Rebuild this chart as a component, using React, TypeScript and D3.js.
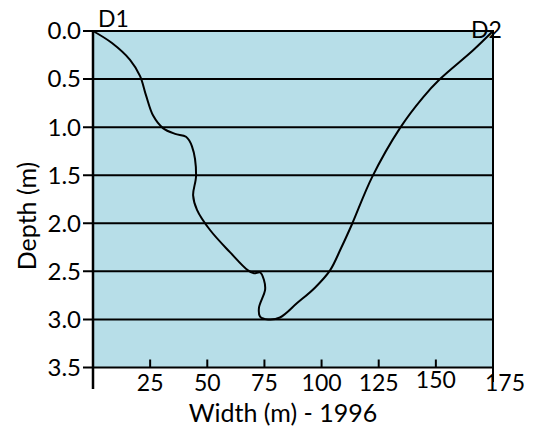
import React, { useEffect, useRef } from 'react'
import * as d3 from 'd3'

// channel cross-section (width m, depth m)
const widths = [0, 8.3, 16.2, 20.6, 23.2, 26.3, 30.6, 35.9, 40.7, 43.3, 45.1, 43.8, 45.5, 51.2, 59.9, 67.8, 70.4, 73.1, 74.8, 75.3, 72.6, 73.1, 76.6, 81.8, 89.3, 97.1, 103.7, 108.5, 113.3, 122.1, 134.3, 144.4, 151.8, 166.3, 175]
const depths = [0, 0.125, 0.3, 0.47, 0.67, 0.88, 1.01, 1.07, 1.1, 1.2, 1.5, 1.71, 1.86, 2.07, 2.3, 2.49, 2.52, 2.51, 2.59, 2.69, 2.88, 2.97, 3.0, 2.98, 2.83, 2.67, 2.49, 2.26, 2.01, 1.52, 1.01, 0.69, 0.5, 0.2, 0]

const depthTicks = [0, 0.5, 1, 1.5, 2, 2.5, 3, 3.5]
const widthTicks = [25, 50, 75, 100, 125, 150, 175]

const font = 'Lato, "Open Sans", sans-serif'

const App = () => {
    const svgRef = useRef<SVGSVGElement>(null)

    useEffect(() => {
        const svg: any = d3.select(svgRef.current)
        svg.selectAll('*').remove()

        const x = d3.scaleLinear([0, 175], [93, 493])
        const y = d3.scaleLinear([0, 3.5], [31, 367.5])

        svg.append('rect')
            .attr('x', x(0)).attr('y', y(0))
            .attr('width', x(175) - x(0)).attr('height', y(3.5) - y(0))
            .attr('fill', '#b7dee8')

        // horizontal grid + left ticks
        svg.selectAll('.grid')
            .data(depthTicks)
            .join('line')
            .attr('class', 'grid')
            .attr('x1', x(0) - 10).attr('x2', x(175))
            .attr('y1', (d: number) => y(d)).attr('y2', (d: number) => y(d))
            .attr('stroke', 'black').attr('stroke-width', 2)

        svg.selectAll('.ylab')
            .data(depthTicks)
            .join('text')
            .attr('class', 'ylab')
            .attr('x', x(0) - 12)
            .attr('y', (d: number) => y(d))
            .attr('dy', '0.35em')
            .attr('text-anchor', 'end')
            .attr('font-family', font).attr('font-size', 24)
            .text((d: number) => d.toFixed(1))

        // left axis and right border
        svg.append('line')
            .attr('x1', x(0)).attr('x2', x(0)).attr('y1', y(0) - 1).attr('y2', 389)
            .attr('stroke', 'black').attr('stroke-width', 2.5)
        svg.append('line')
            .attr('x1', x(175)).attr('x2', x(175)).attr('y1', y(0) - 1).attr('y2', 382)
            .attr('stroke', 'black').attr('stroke-width', 2)

        // x ticks, pointing up from the bottom line
        svg.selectAll('.xtick')
            .data(widthTicks.slice(0, -1))
            .join('line')
            .attr('class', 'xtick')
            .attr('x1', (d: number) => x(d)).attr('x2', (d: number) => x(d))
            .attr('y1', y(3.5) - 8).attr('y2', y(3.5))
            .attr('stroke', 'black').attr('stroke-width', 2)

        svg.selectAll('.xlab')
            .data(widthTicks)
            .join('text')
            .attr('class', 'xlab')
            .attr('x', (d: number) => x(d) + (d === 175 ? 12 : 0))
            .attr('y', (d: number) => (d === 150 ? 388 : 391))
            .attr('text-anchor', 'middle')
            .attr('font-family', font).attr('font-size', 23)
            .text((d: number) => d)

        const line = d3.line<number>()
            .x((_, i) => x(widths[i]))
            .y((_, i) => y(depths[i]))
            .curve(d3.curveCatmullRom.alpha(0.5))

        svg.append('path')
            .attr('d', line(widths))
            .attr('fill', 'none')
            .attr('stroke', 'black')
            .attr('stroke-width', 2)

        svg.append('text')
            .attr('x', x(0) + 5).attr('y', 27)
            .attr('font-family', font).attr('font-size', 23)
            .text('D1')
        svg.append('text')
            .attr('x', x(175) - 22).attr('y', 38)
            .attr('font-family', font).attr('font-size', 23)
            .text('D2')

        svg.append('text')
            .attr('x', 283).attr('y', 422)
            .attr('text-anchor', 'middle')
            .attr('font-family', font).attr('font-size', 25)
            .text('Width (m) - 1996')

        svg.append('text')
            .attr('transform', 'translate(36,216) rotate(-90)')
            .attr('text-anchor', 'middle')
            .attr('font-family', font).attr('font-size', 25)
            .text('Depth (m)')
    }, [])

    return (
        <svg ref={svgRef} width={542} height={431}
            style={{ position: 'absolute', left: 0, top: 0, background: 'white' }} />
    )
}

export default App
